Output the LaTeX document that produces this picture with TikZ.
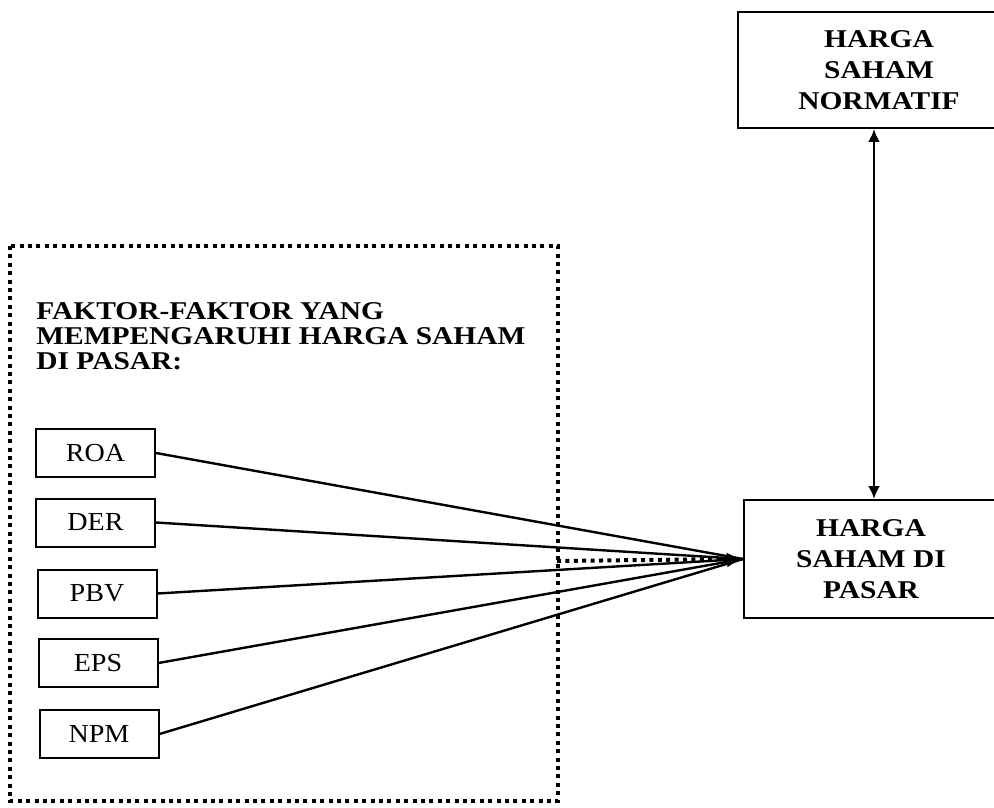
\documentclass[tikz,border=0pt]{standalone}
\usepackage{fontspec}
\setmainfont[FakeStretch=1.08]{Liberation Serif}
\newfontfamily\headfont[FakeStretch=1.15]{Liberation Serif Bold}
\usetikzlibrary{arrows.meta}
\begin{document}
\begin{tikzpicture}[x=0.5pt,y=-0.5pt,
  every node/.style={font=\fontsize{13pt}{15pt}\selectfont},
  varbox/.style={draw,line width=1pt,minimum width=59.5pt,minimum height=24pt,inner sep=0pt},
  bigbox/.style={draw,line width=1pt,align=center,inner sep=0pt,
    font=\fontsize{12.8pt}{15.5pt}\selectfont\headfont},
  link/.style={line width=1.2pt},
  dotline/.style={line width=2pt,dash pattern=on 2pt off 2.2pt},
  tip/.style={-{Latex[length=8pt,width=7.5pt]}},
  dtip/.style={{Latex[length=6.5pt,width=6pt]}-{Latex[length=6.5pt,width=6pt]}},
]
\useasboundingbox (0,0) rectangle (994,807);
\clip (0,0) rectangle (994,807);

% outer dotted frame
\draw[dotline] (10,246) rectangle (558,801);

% title
\node[anchor=north west,align=left,inner sep=0pt,
  font=\fontsize{12.8pt}{12.5pt}\selectfont\headfont] (title) at (36,302)
  {FAKTOR-FAKTOR YANG\\MEMPENGARUHI HARGA SAHAM\\DI PASAR:};

% variable boxes
\node[varbox] (roa) at (95.5,453) {ROA};
\node[varbox] (der) at (95.5,522.5) {DER};
\node[varbox] (pbv) at (97,593.5) {PBV};
\node[varbox] (eps) at (98,663) {EPS};
\node[varbox] (npm) at (99,734) {NPM};

% right boxes
\node[bigbox,minimum width=141pt,minimum height=58pt] (norm) at (879,70)
  {HARGA\\SAHAM\\NORMATIF};
\node[bigbox,minimum width=127pt,minimum height=59pt] (pasar) at (871,559)
  {HARGA\\SAHAM DI\\PASAR};

% connectors
\coordinate (dstart) at (557,561);
\draw[dotline] (dstart) -- ([xshift=-4pt]pasar.west);
\draw[link] (roa.east) -- (pasar.west);
\draw[link] (der.east) -- (pasar.west);
\draw[link,tip] (pbv.east) -- (pasar.west);
\draw[link] (eps.east) -- (pasar.west);
\draw[link] (npm.east) -- (pasar.west);

\coordinate (vx) at (874,0);
\draw[link,dtip] (vx |- norm.south) -- (vx |- pasar.north);
\end{tikzpicture}
\end{document}
